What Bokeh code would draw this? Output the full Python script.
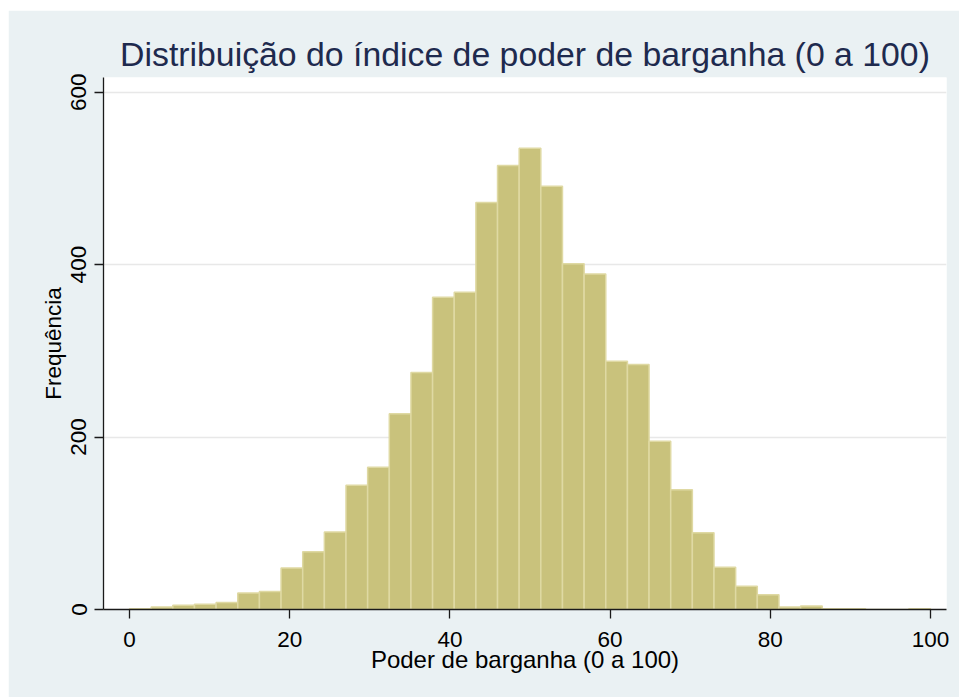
import numpy as np
from bokeh.plotting import figure
from bokeh.models import Range1d, FixedTicker
from bokeh.embed import file_html
from bokeh.resources import INLINE

# Histogram counts (37 equal-width bins from 0 to 100)
counts = [1, 3, 5, 6, 8, 19, 21, 48, 67, 90, 144, 165, 227, 275, 362, 368,
          472, 515, 535, 491, 401, 389, 288, 284, 195, 139, 89, 49, 27, 17,
          3, 4, 1, 1, 0, 0, 1]
bin_start = 0
bin_end = 100
x_ticks = [0, 20, 40, 60, 80, 100]
y_ticks = [0, 200, 400, 600]
title_text = "Distribuição do índice de poder de barganha (0 a 100)"
x_label = "Poder de barganha (0 a 100)"
y_label = "Frequência"

edges = np.linspace(bin_start, bin_end, len(counts) + 1)

FONT = "Liberation Sans"

p = figure(width=951, height=687, output_backend="svg", toolbar_location=None,
           x_range=Range1d(-3.25, 102.0), y_range=Range1d(0, 617),
           min_border_left=95, min_border_right=13, min_border_top=67,
           min_border_bottom=88)
p.margin = (10, 0, 0, 8)

p.background_fill_color = "white"
p.border_fill_color = "#EAF1F3"
p.outline_line_color = None

p.quad(left=edges[:-1], right=edges[1:], bottom=0, top=counts,
       fill_color="#C9C27C", line_color="#DFD9A3", line_width=1.5)

# Title
p.title.text = title_text
p.title.align = "center"
p.title.text_font = FONT
p.title.text_font_size = "33.8px"
p.title.text_font_style = "normal"
p.title.text_color = "#1E2A4E"
p.title.standoff = 9

# Grid
p.xgrid.grid_line_color = None
p.ygrid.grid_line_color = "#E8E8E8"
p.ygrid.grid_line_width = 1.5
p.ygrid.ticker = FixedTicker(ticks=y_ticks[1:])

# Axes
for ax in (p.xaxis[0], p.yaxis[0]):
    ax.axis_line_color = "#1a1a1a"
    ax.axis_line_width = 1.3
    ax.major_tick_line_color = "#1a1a1a"
    ax.major_tick_line_width = 1.3
    ax.major_tick_out = 9
    ax.major_tick_in = 0
    ax.minor_tick_line_color = None
    ax.major_label_text_font = FONT
    ax.major_label_text_font_size = "22.5px"
    ax.major_label_text_color = "black"
    ax.axis_label_text_font = FONT
    ax.axis_label_text_font_style = "normal"
    ax.axis_label_text_color = "black"

p.xaxis.axis_label_text_font_size = "24px"
p.yaxis.axis_label_text_font_size = "22.5px"
p.xaxis.ticker = FixedTicker(ticks=x_ticks)
p.yaxis.ticker = FixedTicker(ticks=y_ticks)
p.xaxis.axis_label = x_label
p.yaxis.axis_label = y_label
p.xaxis.major_label_standoff = 13
p.xaxis.axis_label_standoff = -4
p.yaxis.major_label_orientation = "vertical"
p.yaxis.major_label_standoff = 8
p.yaxis.axis_label_standoff = 3

open("out.html", "w").write(file_html(p, INLINE))
